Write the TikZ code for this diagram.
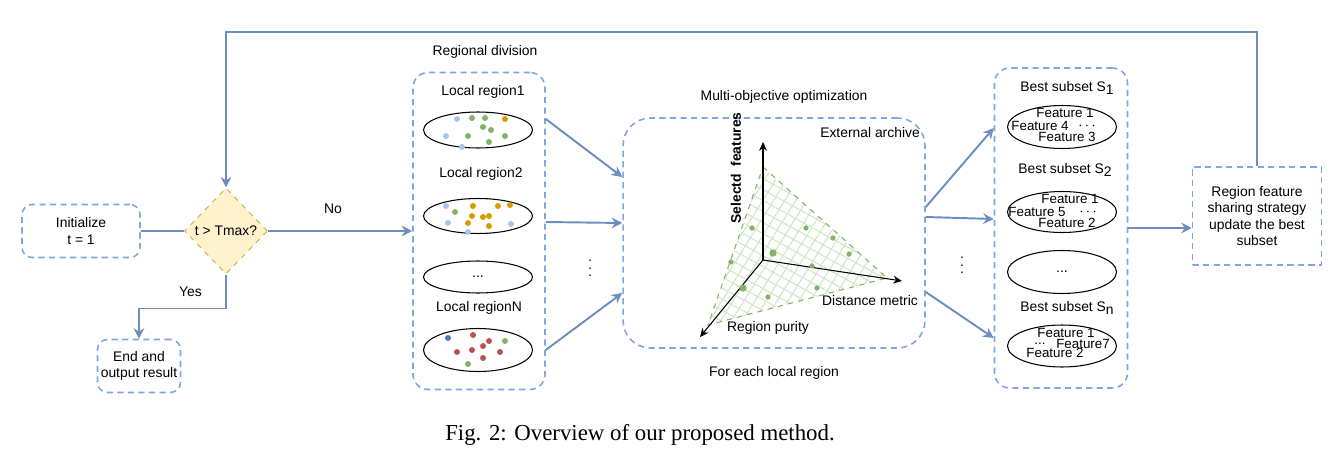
\documentclass[tikz,border=0pt]{standalone}
\usepackage{fontspec}
\setmainfont{Liberation Serif}
\setsansfont{Liberation Sans}
\usepackage{xcolor}
\usetikzlibrary{arrows.meta}
\usetikzlibrary{calc}
\usetikzlibrary{shapes.geometric}

\definecolor{linkblue}{HTML}{6C8EBF}
\definecolor{dashblue}{HTML}{7EA6E0}
\definecolor{condfill}{HTML}{FFF2CC}
\definecolor{condline}{HTML}{D6B656}
\definecolor{ptlb}{HTML}{A9C4EB}
\definecolor{ptgr}{HTML}{82B366}
\definecolor{ptor}{HTML}{D79B00}
\definecolor{ptrd}{HTML}{B85450}
\definecolor{ptdb}{HTML}{4A7AB8}
\definecolor{gridgr}{HTML}{CFE6C6}

\newcommand{\subidx}[1]{\raisebox{-0.45ex}{#1}}

\begin{document}
\begin{tikzpicture}[x=0.02cm, y=-0.02cm,
  font=\sffamily\fontsize{7.9}{9.2}\selectfont,
  dbox/.style={draw=dashblue, line width=0.9pt, dash pattern=on 3.5pt off 2.5pt,
    rounded corners=0.2cm, align=center, inner sep=1pt},
  cond/.style={diamond, draw=condline, fill=condfill, dashed, line width=0.6pt,
    inner sep=0pt, minimum width=1.66cm, minimum height=1.72cm},
  region/.style={ellipse, draw=black, line width=0.6pt, minimum width=2.18cm, inner sep=0pt},
  feat/.style={inner sep=0pt, font=\sffamily\fontsize{7.6}{8}\selectfont},
  link/.style={draw=linkblue, line width=1.1pt},
  arr/.style={link, -{Stealth[length=6pt, width=6pt, inset=2pt]}},
  axisarrow/.style={draw=black, line width=0.6pt, -{Stealth[length=5pt, width=4.5pt]}}]
  \useasboundingbox (0,0) rectangle (1344,466);

  \node[dbox, minimum width=2.36cm, minimum height=1.06cm] (init) at (81,231) {Initialize\\t = 1};
  \node[cond] (test) at (226,231) {t > Tmax?};
  \node[dbox, minimum width=1.66cm, minimum height=1.06cm] (stop) at (139,366) {End and\\output result};

  % regional division
  \node (divl) at (485,52) {Regional division};
  \node[dbox, rounded corners=0.3cm, minimum width=2.64cm, minimum height=6.34cm] (div) at (479,231) {};
  \node (l1) at (483,92) {Local region1};
  \node[region, minimum height=0.72cm] (r1) at (478,130) {};
  \node (l2) at (481,174) {Local region2};
  \node[region, minimum height=0.7cm] (r2) at (478,216) {};
  \node[region, minimum height=0.64cm] (r3) at (478,277) {...};
  \node (l3) at (479,308) {Local regionN};
  \node[region, minimum height=0.86cm] (rn) at (478,350) {};
  \foreach \px/\py/\pc in {457/119/ptlb, 472/118/ptgr, 485/118/ptgr, 505/119/ptor,
      483/127/ptgr, 491/130/ptgr, 446/136/ptlb, 468/136/ptgr, 505/136/ptgr,
      489/142/ptgr, 462/147/ptlb,
      446/206/ptlb, 473/206/ptor, 498/206/ptor, 510/205/ptor, 455/212/ptgr,
      472/216/ptor, 483/217/ptor, 489/216/ptor, 448/223/ptlb, 468/223/ptor,
      489/226/ptor, 511/224/ptlb, 468/232/ptlb,
      448/338/ptdb, 473/335/ptrd, 489/341/ptrd, 505/341/ptgr, 483/346/ptrd,
      457/352/ptrd, 472/350/ptrd, 500/352/ptrd, 483/358/ptrd, 468/364/ptgr}
    \fill[\pc] (\px,\py) circle (1.7pt);
  \node (dots1) at (590,263) {$\vdots$};

  % multi-objective optimization
  \node (mol) at (784,97) {Multi-objective optimization};
  \node[dbox, rounded corners=0.55cm, minimum width=6.04cm, minimum height=4.6cm] (opt) at (774,233) {};
  \node (arch) at (870,133) {External archive};
  \node (each) at (774,373) {For each local region};
  \coordinate (o) at (763,260);
  \coordinate (ta) at (763,167);
  \coordinate (tb) at (887,278);
  \coordinate (tc) at (708,325);
  \begin{scope}
    \clip (ta) -- (tb) -- (tc) -- cycle;
    \foreach \k in {0,...,30} {
      \draw[gridgr, line width=0.6pt] (600,-10+\k*11) -- +(400,220);
      \draw[gridgr, line width=0.6pt] (550+\k*11,400) -- +(200,-320);
    }
  \end{scope}
  \draw[ptgr, dashed, line width=0.6pt] (ta) -- (tb) -- (tc) -- cycle;
  \draw[axisarrow] (o) -- (763,142);
  \draw[axisarrow] (o) -- (902,281);
  \draw[axisarrow] (o) -- (700,337);
  \foreach \px/\py/\pr in {752/228/1.5, 731/262/1.5, 743/288/2.1, 773/253/2.1, 768/297/1.5,
      806/228/1.5, 833/238/1.5, 849/254/1.5, 812/266/1.5, 817/288/1.5}
    \fill[ptgr] (\px,\py) circle (\pr pt);
  \node[rotate=90, font=\sffamily\bfseries\fontsize{7.9}{9}\selectfont] (fsel) at (736,168) {Selectd\ \ features};
  \node (fdist) at (870,301) {Distance metric};
  \node (fpur) at (768,328) {Region purity};

  % best subsets
  \node[dbox, rounded corners=0.3cm, minimum width=2.66cm, minimum height=6.4cm] (best) at (1061,228) {};
  \node (b1) at (1067,88) {Best subset S\subidx{1}};
  \node[region, minimum height=0.86cm] (s1) at (1062,127) {};
  \node[feat] (s1a) at (1065,113) {Feature 1};
  \node[feat] (s1b) at (1040,126) {Feature 4};
  \node[feat] (s1c) at (1087,126) {$\cdots$};
  \node[feat] (s1d) at (1067,137) {Feature 3};
  \node (b2) at (1065,170) {Best subset S\subidx{2}};
  \node[region, minimum height=0.82cm] (s2) at (1062,212) {};
  \node[feat] (s2a) at (1070,199) {Feature 1};
  \node[feat] (s2b) at (1037,212) {Feature 5};
  \node[feat] (s2c) at (1088,212) {$\cdots$};
  \node[feat] (s2d) at (1067,223) {Feature 2};
  \node[region, minimum height=0.86cm] (s3) at (1062,272) {...};
  \node (b3) at (1067,308) {Best subset S\subidx{n}};
  \node[region, minimum height=0.84cm] (sn) at (1062,346) {};
  \node[feat] (sna) at (1066,333) {Feature 1};
  \node[feat] (snb) at (1040,344) {...};
  \node[feat] (snc) at (1083,344) {Feature7};
  \node[feat] (snd) at (1055,353) {Feature 2};
  \node (dots2) at (962,260) {$\vdots$};

  \node[dbox, rounded corners=0pt, minimum width=2.58cm, minimum height=1.96cm] (share) at (1257,216)
    {Region feature\\sharing strategy\\update the best\\subset};

  \draw[link] (init) -- (test);
  \draw[arr] (test) -- node[pos=0.45, above=0.22cm] {No} (test -| div.west);
  \draw[arr] (test.south) -- ++(0,34) node[midway, left=0.35cm] {Yes} -| (stop.north);
  \draw[arr] ($(div.east)+(0,-112)$) -- ($(opt.west)+(0,-56)$);
  \draw[arr] ($(div.east)+(0,-9)$) -- ($(opt.west)+(0,-10)$);
  \draw[arr] ($(div.east)+(0,119)$) -- ($(opt.west)+(0,60)$);
  \draw[arr] ($(opt.east)+(0,-26)$) -- ($(best.west)+(0,-100)$);
  \draw[arr] ($(opt.east)+(0,-16)$) -- ($(best.west)+(0,-9)$);
  \draw[arr] ($(opt.east)+(0,59)$) -- ($(best.west)+(0,110)$);
  \draw[arr] (best.east) -- (best.east -| share.west);
  \draw[arr] (share.north) -- ++(0,-134) -| (test.north);

  \node[font=\rmfamily\fontsize{13}{15}\selectfont] (cap) at (640,435) {Fig. 2: Overview of our proposed method.};
\end{tikzpicture}
\end{document}
